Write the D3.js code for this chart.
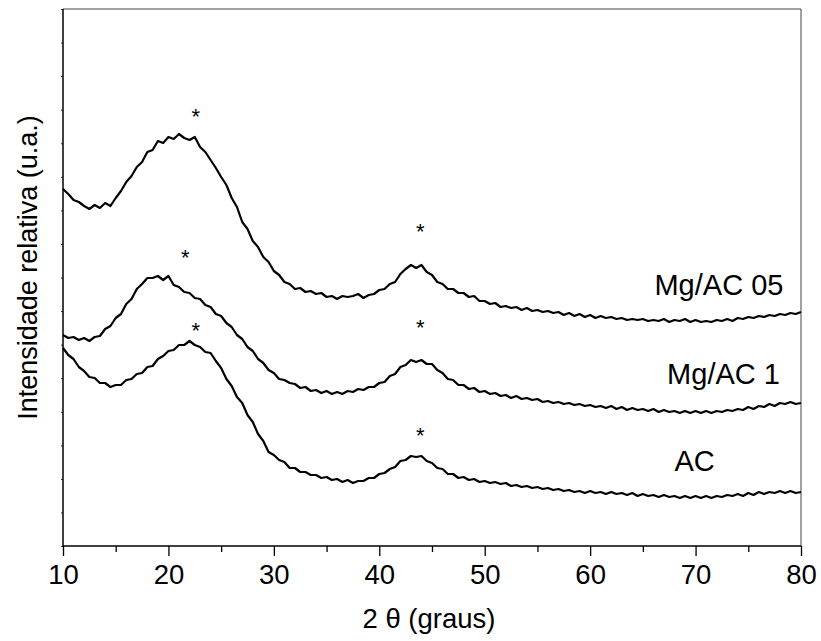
<!DOCTYPE html>
<html><head><meta charset="utf-8">
<script src="https://cdn.jsdelivr.net/npm/d3@7"></script>
<style>
body{margin:0;background:#fff}
text{font-family:"Liberation Sans",Arial,Helvetica,sans-serif;fill:#000}
</style>
</head><body>
<svg id="chart" width="821" height="641"></svg>
<script>
// sampling grid of the diffractograms (2θ, degrees)
const twoTheta = d3.range(141).map(i => 10 + i * 0.5);

// relative intensity (a.u.), series already offset as in the figure
const seriesMg05 = [
357,352,346,344,340,337,341,338,343,340,
348,355,364,370,379,384,394,396,405,403,
409,407,412,408,406,409,399,394,386,378,
369,361,348,339,324,317,305,299,289,284,
275,271,264,262,257,258,254,255,252,253,
249,250,247,250,249,250,252,248,251,252,
256,257,262,264,272,277,281,278,281,274,
271,264,262,257,257,253,253,249,250,245,
245,242,243,239,240,238,239,236,238,235,
236,234,235,233,234,231,233,230,232,229,
231,228,230,228,229,227,228,226,227,226,
227,225,226,225,227,224,226,225,227,224,
226,224,225,224,226,225,227,225,228,227,
229,228,230,229,231,230,232,231,233,232,
234];
const seriesMg1 = [
211,208,209,206,208,205,209,210,217,220,
228,232,242,247,257,262,268,268,270,266,
270,261,259,254,253,248,247,241,239,232,
230,223,219,211,207,199,195,187,183,176,
173,167,166,163,162,158,159,155,156,153,
155,152,154,152,155,154,157,156,159,159,
163,164,170,172,179,181,186,184,186,182,
182,176,173,167,166,161,161,157,158,154,
155,152,153,150,151,148,150,147,148,146,
147,144,145,143,144,142,143,141,142,140,
141,139,140,138,140,137,139,136,138,136,
137,135,137,134,136,134,135,133,135,133,
135,133,135,133,135,134,136,135,137,136,
139,137,140,139,142,140,143,142,144,142,
143];
const seriesAC = [
198,191,187,179,175,169,168,163,163,159,
161,161,166,167,172,173,179,180,187,190,
195,196,201,201,205,201,199,194,193,185,
178,167,160,149,143,131,124,112,105,94,
91,86,84,78,78,74,74,71,71,68,
69,66,67,64,66,63,65,65,68,68,
72,73,77,79,85,86,90,89,90,85,
83,78,77,72,72,68,69,66,67,64,
65,63,64,62,63,60,61,59,60,58,
59,57,58,56,57,55,56,54,55,53,
55,53,54,52,54,52,53,51,53,50,
52,50,51,49,51,49,50,48,50,48,
50,48,50,48,50,49,51,50,52,50,
53,51,54,52,54,53,55,53,55,53,
54];

const seriesNames = ["Mg/AC 05", "Mg/AC 1", "AC"];
const seriesData = [seriesMg05, seriesMg1, seriesAC];
// label anchor (2θ, intensity)
const labelX = [66.1, 67.3, 68.0];
const labelY = [251, 162, 75];

// asterisk peak markers (2θ, intensity)
const markX = [22.6, 43.9, 21.6, 43.9, 22.6, 43.9];
const markY = [434, 319, 293, 223, 220, 115];

const xMajor = [10, 20, 30, 40, 50, 60, 70, 80];
const xMinor = [15, 25, 35, 45, 55, 65, 75];
const yTickCount = 16;

const xLabel = "2 θ (graus)";
const yLabel = "Intensidade relativa (u.a.)";

const svg = d3.select("#chart");
const L = 63, R = 801, T = 9, B = 546;
const x = d3.scaleLinear().domain([10, 80]).range([L, R]);
const y = d3.scaleLinear().domain([0, 537]).range([B, T]);

// minor x ticks
svg.append("g").attr("transform", `translate(0,${B})`)
  .call(d3.axisBottom(x).tickValues(xMinor).tickSize(6).tickFormat(""))
  .call(g => g.select(".domain").remove())
  .call(g => g.selectAll("line").attr("stroke", "#000").attr("stroke-width", 1.3));
// major x ticks
svg.append("g").attr("transform", `translate(0,${B})`)
  .call(d3.axisBottom(x).tickValues(xMajor).tickSize(10).tickPadding(8).tickFormat(d3.format("d")))
  .call(g => g.select(".domain").remove())
  .call(g => g.selectAll("line").attr("stroke", "#000").attr("stroke-width", 1.3))
  .call(g => g.selectAll("text").attr("font-size", 27.5).attr("font-family", '"Liberation Sans",Arial,sans-serif').attr("fill", "#000"));

// y ticks (no labels)
const yT = d3.range(yTickCount + 1).map(i => i * 537 / yTickCount);
svg.append("g").attr("transform", `translate(${L},0)`)
  .call(d3.axisLeft(y).tickValues(yT).tickSize(2).tickFormat(""))
  .call(g => g.select(".domain").remove())
  .call(g => g.selectAll("line").attr("stroke", "#333").attr("stroke-width", 1));

// frame
svg.append("line").attr("x1", L).attr("x2", R).attr("y1", T).attr("y2", T).attr("stroke", "#444").attr("stroke-width", 1);
svg.append("line").attr("x1", R).attr("x2", R).attr("y1", T).attr("y2", B).attr("stroke", "#444").attr("stroke-width", 1);
svg.append("line").attr("x1", L).attr("x2", L).attr("y1", T).attr("y2", B + 0.75).attr("stroke", "#000").attr("stroke-width", 1.5);
svg.append("line").attr("x1", L).attr("x2", R).attr("y1", B).attr("y2", B).attr("stroke", "#000").attr("stroke-width", 1.5);

// curves
const line = d3.line().x((d, i) => x(twoTheta[i])).y(d => y(d));
svg.append("g").selectAll("path").data(seriesData).join("path")
  .attr("d", d => line(d))
  .attr("fill", "none").attr("stroke", "#000").attr("stroke-width", 2.2).attr("stroke-linejoin", "round");

// series labels
svg.append("g").selectAll("text").data(seriesNames).join("text")
  .attr("x", (d, i) => x(labelX[i])).attr("y", (d, i) => y(labelY[i]))
  .attr("font-size", 29).text(d => d);

// asterisks
svg.append("g").selectAll("text").data(markX).join("text")
  .attr("x", d => x(d)).attr("y", (d, i) => y(markY[i]) + 12)
  .attr("text-anchor", "middle").attr("font-size", 22).text("*");

// axis titles
svg.append("text").attr("x", (L + R) / 2 - 3).attr("y", 628).attr("text-anchor", "middle")
  .attr("font-size", 27.5).text(xLabel);
svg.append("text").attr("transform", `translate(37,${(T + B) / 2 - 10}) rotate(-90)`)
  .attr("text-anchor", "middle").attr("font-size", 27).text(yLabel);
</script>
</body></html>
